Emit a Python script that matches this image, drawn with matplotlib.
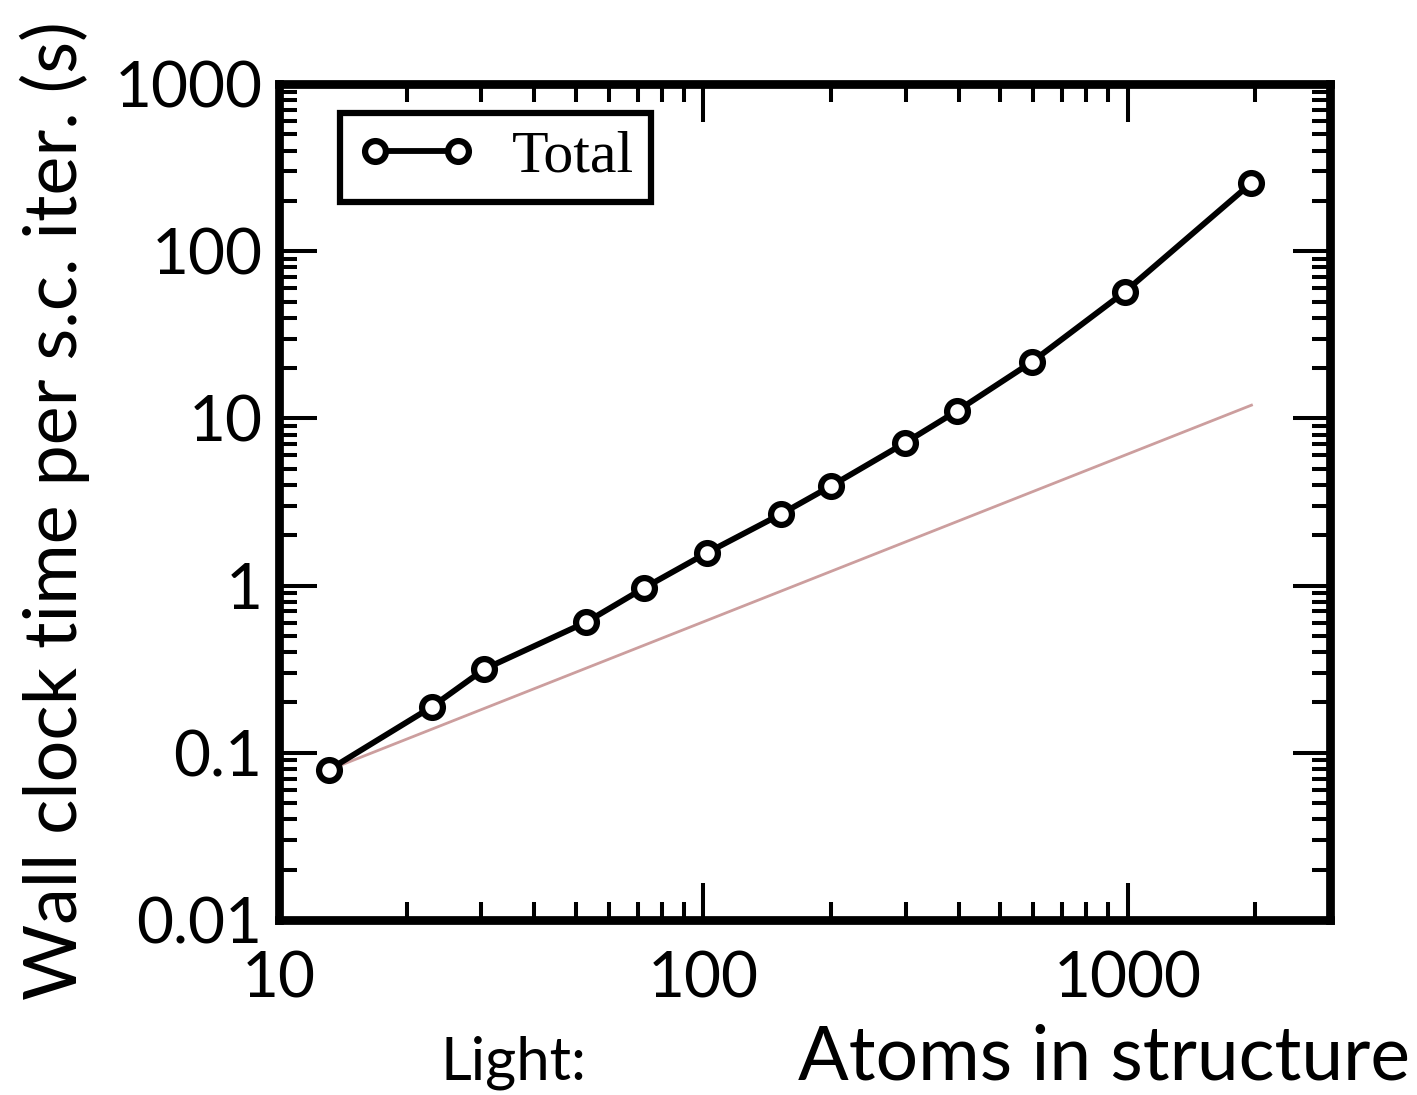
import matplotlib
matplotlib.use("Agg")
import matplotlib.pyplot as plt
from matplotlib.ticker import LogLocator, NullFormatter, FixedLocator, FixedFormatter

# ---- data ----
atoms = [13.1, 22.9, 30.5, 53, 72.6, 102, 152.6, 200, 298.5, 396, 594, 984, 1959]
total_time = [0.079, 0.188, 0.317, 0.605, 0.97, 1.57, 2.68, 3.94, 7.13, 11.07, 21.7, 57, 256]
ref_x = [13.1, 1959]
ref_y = [0.079, 12.0]
x_ticks = [10, 100, 1000]
x_ticklabels = ["10", "100", "1000"]
y_ticks = [0.01, 0.1, 1, 10, 100, 1000]
y_ticklabels = ["0.01", "0.1", "1", "10", "100", "1000"]
series_label = "Total"

W, H = 1417, 1095
fig = plt.figure(figsize=(W / 100, H / 100), dpi=100)
L, R, T, B = 279, 1330, 84, 920
ax = fig.add_axes([L / W, (H - B) / H, (R - L) / W, (B - T) / H])

ax.set_xscale("log")
ax.set_yscale("log")
ax.set_xlim(10, 3000)
ax.set_ylim(0.01, 1000)

ax.plot(ref_x, ref_y, color="#cc9e9e", lw=2.0, zorder=2)
ax.plot(atoms, total_time, color="black", lw=4.2, marker="o", ms=15,
        mfc="white", mec="black", mew=4.5, label=series_label, zorder=3)

for s in ax.spines.values():
    s.set_linewidth(6.3)

ax.xaxis.set_major_locator(FixedLocator(x_ticks))
ax.xaxis.set_major_formatter(FixedFormatter(x_ticklabels))
ax.yaxis.set_major_locator(FixedLocator(y_ticks))
ax.yaxis.set_major_formatter(FixedFormatter(y_ticklabels))
ax.xaxis.set_minor_locator(LogLocator(base=10, subs=range(2, 10), numticks=20))
ax.yaxis.set_minor_locator(LogLocator(base=10, subs=range(2, 10), numticks=20))
ax.xaxis.set_minor_formatter(NullFormatter())
ax.yaxis.set_minor_formatter(NullFormatter())

ax.tick_params(which="both", direction="in", top=True, right=True, width=2.9, color="black")
ax.tick_params(which="major", length=27)
ax.tick_params(which="minor", length=13)
ax.tick_params(axis="x", which="major", pad=22)
ax.tick_params(axis="y", which="major", pad=12)
for lab in ax.get_xticklabels() + ax.get_yticklabels():
    lab.set_fontfamily("Lato")
    lab.set_fontsize(46)

leg = ax.legend(loc="upper left", bbox_to_anchor=(0.058, 0.965), borderaxespad=0,
                frameon=True, fancybox=False, edgecolor="black", framealpha=1,
                prop={"family": "Liberation Serif", "size": 43},
                handlelength=2.0, handletextpad=0.6, borderpad=0.28, numpoints=2)
leg.get_frame().set_linewidth(4.5)

fig.text(55 / W, (H - 1000) / H, "Wall clock time per s.c. iter. (s)", rotation=90,
         ha="center", va="bottom", fontfamily="Lato", fontsize=53)
fig.text(1410 / W, 15 / H, "Atoms in structure", ha="right", va="baseline",
         fontfamily="Lato", fontsize=54)
fig.text(440 / W, 16 / H, "Light:", ha="left", va="baseline",
         fontfamily="Lato", fontsize=43)

fig.savefig("out.png", dpi=100)
